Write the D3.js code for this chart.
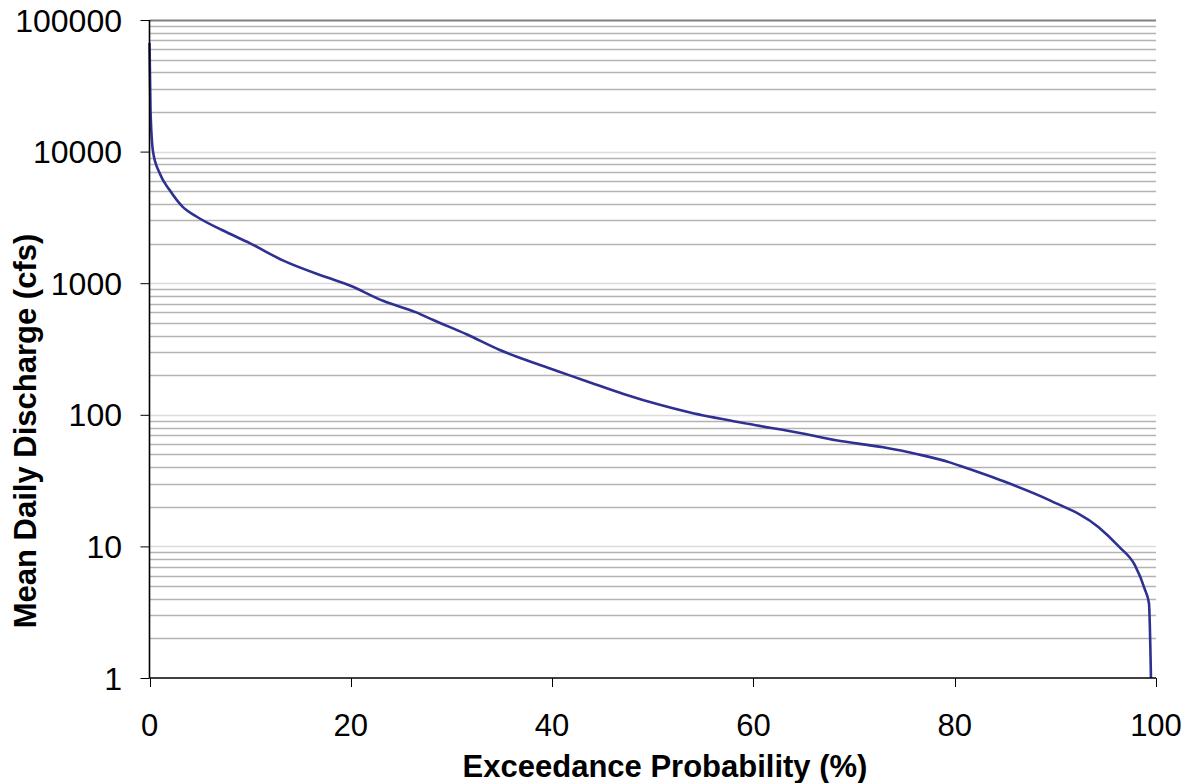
<!DOCTYPE html>
<html>
<head>
<meta charset="utf-8">
<script src="https://cdn.jsdelivr.net/npm/d3@7"></script>
<style>
body { margin: 0; background: #fff; }
.tick-label { font-family: "Liberation Sans", Arial, sans-serif; font-size: 31px; fill: #000; }
.axis-title { font-family: "Liberation Sans", Arial, sans-serif; font-size: 31px; font-weight: bold; fill: #000; }
</style>
</head>
<body>
<svg width="1192" height="783"></svg>
<script>

// flow duration curve
var exceedance = [0, 0.1, 0.35, 1.0, 2.0, 3.3, 4.7, 7.2, 10.0, 13.3, 17.6, 19.9, 23.2, 26.5, 28.2,
	31.5, 34.8, 36.5, 39.8, 42.1, 43.7, 47.1, 50.7, 53.7, 59.6, 64.9, 68.2, 72.9, 76.2, 79.5,
	80.5, 84.5, 89.4, 94.3, 96.3, 97.9, 98.9, 99.3, 99.5];
var discharge = [67000, 20700, 10000, 6870, 5100, 3800, 3200, 2535, 2010, 1483, 1108, 960, 735, 600, 525,
	409, 311, 276, 225, 195, 177, 144, 119, 104, 85, 72, 64, 56.6, 50.4, 43.5,
	41, 32, 22.5, 14, 10, 7.2, 4.7, 3.7, 1];

var xTicks = [0, 20, 40, 60, 80, 100];
var yTicks = [1, 10, 100, 1000, 10000, 100000];

var svg = d3.select("svg");
var plotLeft = 149.5, plotRight = 1156, plotTop = 20, plotBottom = 678;

var x = d3.scaleLinear().domain([0, 100]).range([plotLeft, plotRight]);
var y = d3.scaleLog().domain([1, 100000]).range([plotBottom, plotTop]);

// gridlines: minor 2..9 of every decade, lighter at decades
var minor = [];
yTicks.forEach(function(d) {
	if (d < 100000) for (var k = 2; k <= 9; k++) minor.push(d * k);
});

var grid = svg.append("g");
grid.selectAll("line.minor")
	.data(minor)
	.enter().append("line")
	.attr("x1", plotLeft).attr("x2", plotRight)
	.attr("y1", function(d) { return Math.round(y(d)) + 0.5; })
	.attr("y2", function(d) { return Math.round(y(d)) + 0.5; })
	.attr("stroke", "#b3b3b3")
	.attr("stroke-width", 1.6);

grid.selectAll("line.major")
	.data(yTicks.slice(1, 5))
	.enter().append("line")
	.attr("x1", plotLeft).attr("x2", plotRight)
	.attr("y1", function(d) { return Math.round(y(d)) + 0.5; })
	.attr("y2", function(d) { return Math.round(y(d)) + 0.5; })
	.attr("stroke", "#dcdcdc")
	.attr("stroke-width", 1.6);

grid.append("line")
	.attr("x1", plotLeft).attr("x2", plotRight)
	.attr("y1", y(100000) + 0.5).attr("y2", y(100000) + 0.5)
	.attr("stroke", "#808080")
	.attr("stroke-width", 1.8);

// curve
var pts = exceedance.map(function(d, i) { return [d, discharge[i]]; });
var line = d3.line()
	.x(function(d) { return x(d[0]); })
	.y(function(d) { return y(d[1]); })
	.curve(d3.curveMonotoneX);

svg.append("path")
	.datum(pts)
	.attr("d", line)
	.attr("fill", "none")
	.attr("stroke", "#2e3092")
	.attr("stroke-width", 2.6)
	.attr("stroke-linejoin", "round");

// axes
svg.append("line")
	.attr("x1", plotLeft).attr("x2", plotLeft)
	.attr("y1", plotTop).attr("y2", plotBottom)
	.attr("stroke", "#000").attr("stroke-width", 1.6);
svg.append("line")
	.attr("x1", plotLeft).attr("x2", plotRight)
	.attr("y1", plotBottom).attr("y2", plotBottom)
	.attr("stroke", "#000").attr("stroke-width", 1.6);

svg.selectAll("line.ytick")
	.data(yTicks)
	.enter().append("line")
	.attr("x1", plotLeft - 9).attr("x2", plotLeft)
	.attr("y1", function(d) { return y(d) + 0.5; })
	.attr("y2", function(d) { return y(d) + 0.5; })
	.attr("stroke", "#000").attr("stroke-width", 1);

svg.selectAll("line.xtick")
	.data(xTicks)
	.enter().append("line")
	.attr("x1", function(d) { return Math.round(x(d)) + 0.5; })
	.attr("x2", function(d) { return Math.round(x(d)) + 0.5; })
	.attr("y1", plotBottom).attr("y2", plotBottom + 9)
	.attr("stroke", "#000").attr("stroke-width", 1);

svg.selectAll("text.ylab")
	.data(yTicks)
	.enter().append("text")
	.attr("class", "tick-label")
	.style("font-size", "32px")
	.attr("x", 122)
	.attr("y", function(d) { return y(d); })
	.attr("dy", "0.36em")
	.attr("text-anchor", "end")
	.text(function(d) { return d; });

svg.selectAll("text.xlab")
	.data(xTicks)
	.enter().append("text")
	.attr("class", "tick-label")
	.attr("x", function(d) { return x(d); })
	.attr("y", 736)
	.attr("text-anchor", "middle")
	.text(function(d) { return d; });

svg.append("text")
	.attr("class", "axis-title")
	.attr("x", 665)
	.attr("y", 777)
	.attr("text-anchor", "middle")
	.text("Exceedance Probability (%)");

svg.append("text")
	.attr("class", "axis-title")
	.attr("transform", "translate(36,431) rotate(-90)")
	.attr("text-anchor", "middle")
	.text("Mean Daily Discharge (cfs)");

</script>
</body>
</html>
